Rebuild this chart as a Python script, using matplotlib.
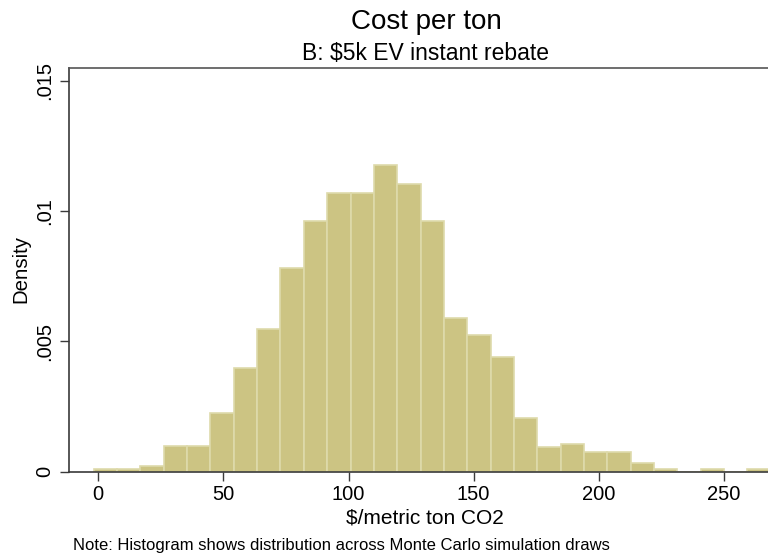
import numpy as np
import matplotlib
matplotlib.use("Agg")
import matplotlib.pyplot as plt

# Histogram of Monte Carlo cost-per-ton draws (density scale)
bin_start = -1.84      # left edge of the first bin, $/metric ton
bin_width = 9.33       # width of every bin, $/metric ton
density = [0.00011, 0.00011, 0.00021, 0.00097, 0.00097, 0.00225, 0.00397,
           0.00546, 0.00783, 0.00963, 0.01069, 0.01069, 0.01177, 0.01104,
           0.00963, 0.00589, 0.00524, 0.00439, 0.00205, 0.00096, 0.00106,
           0.00074, 0.00074, 0.00032, 0.00010, 0.0, 0.00010, 0.0, 0.00010]

x_ticks = [0, 50, 100, 150, 200, 250]
y_ticks = [0, 0.005, 0.01, 0.015]
y_tick_labels = ["0", ".005", ".01", ".015"]

title = "Cost per ton"
subtitle = "B: \\$5k EV instant rebate"
x_label = "\\$/metric ton CO2"
y_label = "Density"
note = "Note: Histogram shows distribution across Monte Carlo simulation draws"

plt.rcParams["font.family"] = ["Liberation Sans", "DejaVu Sans"]

W, H = 768, 557
fig = plt.figure(figsize=(W / 100, H / 100), dpi=100)
fig.patch.set_facecolor("white")

ax_left, ax_right, ax_top, ax_bottom = 69, 768, 68, 471.7
ax = fig.add_axes([ax_left / W, 1 - ax_bottom / H,
                   (ax_right - ax_left) / W, (ax_bottom - ax_top) / H])

lefts = bin_start + bin_width * np.arange(len(density))
ax.bar(lefts, density, width=bin_width, align="edge",
       color="#CCC483", edgecolor="#DEDAAB", linewidth=1.2, zorder=2)

ax.set_xlim(-11.7, 267.6)
ax.set_ylim(0, 0.01549)

ax.set_xticks(x_ticks)
ax.set_xticklabels([str(v) for v in x_ticks])
ax.set_yticks(y_ticks)
ax.set_yticklabels(y_tick_labels, rotation=90, va="center")

spine_col = "#3A3A3A"
for side in ["left", "bottom", "top"]:
    ax.spines[side].set_color(spine_col)
    ax.spines[side].set_linewidth(1.2)
ax.spines["top"].set_color("#555555")
ax.spines["right"].set_visible(False)

ax.tick_params(axis="both", length=6.5, width=1.0, color=spine_col,
               labelsize=14.5, labelcolor="black")
ax.tick_params(axis="x", pad=3)
ax.tick_params(axis="y", pad=4)

ax.set_ylabel("")
ax.set_xlabel("")

fig.text(426 / W, 1 - 29.3 / H, title, ha="center", va="baseline", fontsize=20)
fig.text(426 / W, 1 - 60 / H, subtitle, ha="center", va="baseline", fontsize=16.5)
fig.text(425 / W, 1 - 523.3 / H, x_label, ha="center", va="baseline", fontsize=15)
fig.text(21 / W, 1 - 269 / H, y_label, ha="center", va="center",
         rotation=90, fontsize=14.7)
fig.text(73.3 / W, 1 - 550 / H, note, ha="left", va="baseline", fontsize=12.0)

fig.savefig("out.png", dpi=100, facecolor="white")
